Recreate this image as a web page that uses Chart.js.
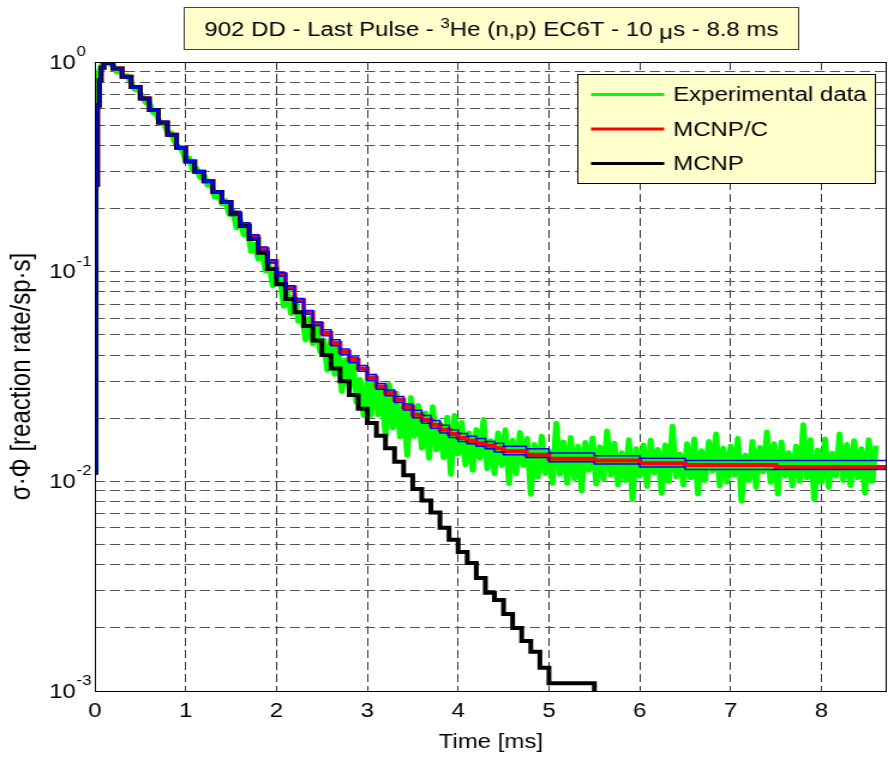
<!DOCTYPE html>
<html>
<head>
<meta charset="utf-8">
<title>902 DD - Last Pulse</title>
<script src="https://cdn.jsdelivr.net/npm/chart.js@4.4.1/dist/chart.umd.min.js"></script>
<style>
  html, body { margin: 0; padding: 0; background: #fff; }
</style>
</head>
<body>
<!-- the reference figure is horizontally stretched, so the canvas is drawn narrow and scaled up by CSS -->
<canvas id="chart" width="740" height="757" style="width:888px;height:757px;display:block"></canvas>
<script>
const FONT = '"Liberation Sans", Arial, sans-serif';

// title, with the superscript and the mu split out
const titleParts = [
    ["902 DD - Last Pulse - ", 20, 0],
    ["3", 14, -8],
    ["He (n,p) EC6T - 10 ", 20, 0],
    ["\u03bc", 20, 3],
    ["s - 8.8 ms", 20, 0],
];

// axes
const xMax = 8.72;
const yDecades = [0.001, 0.01, 0.1, 1];
const yExponents = ["-3", "-2", "-1", "0"];
const yMinor = [2, 3, 4, 5, 6, 7, 8, 9];

// MCNP/C (red): left edge of each time bin [ms] and the bin value
const mcnpcTime = [0, 0.01, 0.03, 0.05, 0.07, 0.1,
    0.2, 0.3, 0.4, 0.5, 0.6, 0.7, 0.8, 0.9, 1.0, 1.1, 1.2, 1.3, 1.4, 1.5,
    1.6, 1.7, 1.8, 1.9, 2.0, 2.1, 2.2, 2.3, 2.4, 2.5, 2.6, 2.7, 2.8, 2.9,
    3.0, 3.1, 3.2, 3.3, 3.4, 3.5, 3.6, 3.7, 3.8, 3.9, 4.0, 4.1, 4.2, 4.3, 4.4,
    4.5, 4.75, 5.0, 5.5, 6.0, 6.5, 7.5, 8.72];
const mcnpcValue = [0.011, 0.26, 0.62, 0.82, 0.94, 0.99,
    0.93, 0.85, 0.76, 0.67, 0.59, 0.515, 0.45, 0.39, 0.335, 0.30, 0.27, 0.24, 0.215, 0.19,
    0.168, 0.147, 0.128, 0.112, 0.097, 0.084, 0.073, 0.064, 0.0565, 0.051, 0.0457, 0.0414, 0.0379, 0.0345,
    0.0312, 0.0283, 0.0264, 0.0245, 0.0226, 0.0208, 0.0196, 0.0186, 0.0176, 0.0168, 0.0161, 0.0156, 0.0152, 0.0148, 0.0144,
    0.0139, 0.0134, 0.0128, 0.01256, 0.0122, 0.01197, 0.0117, 0.0117];

// blue band around MCNP/C (same bins)
const upperValue = [0.011, 0.26, 0.62, 0.82, 0.94, 0.99,
    0.939, 0.859, 0.768, 0.677, 0.596, 0.520, 0.455, 0.394, 0.338, 0.303, 0.273, 0.242, 0.217, 0.194,
    0.171, 0.150, 0.131, 0.114, 0.0989, 0.0857, 0.0745, 0.0653, 0.0576, 0.0528, 0.0473, 0.0428, 0.0392, 0.0357,
    0.0323, 0.0293, 0.0273, 0.0254, 0.0234, 0.0218, 0.0206, 0.0195, 0.0185, 0.0176, 0.0169, 0.0164, 0.0160, 0.0155, 0.0152,
    0.0147, 0.0143, 0.01365, 0.01323, 0.0129, 0.01257, 0.01257, 0.01257];
const lowerValue = [0.011, 0.26, 0.62, 0.82, 0.94, 0.98,
    0.921, 0.842, 0.752, 0.663, 0.584, 0.510, 0.446, 0.386, 0.332, 0.297, 0.267, 0.238, 0.213, 0.186,
    0.165, 0.144, 0.125, 0.110, 0.0951, 0.0823, 0.0715, 0.0627, 0.0554, 0.0495, 0.0443, 0.0402, 0.0368, 0.0335,
    0.0303, 0.0275, 0.0256, 0.0238, 0.0219, 0.0201, 0.0189, 0.0179, 0.0170, 0.0162, 0.0155, 0.0151, 0.0147, 0.0143, 0.0138,
    0.0134, 0.0130, 0.0124, 0.0121, 0.0117, 0.01139, 0.01139, 0.01139];

// MCNP (black)
const mcnpTime = [0, 0.01, 0.03, 0.05, 0.07, 0.1,
    0.2, 0.3, 0.4, 0.5, 0.6, 0.7, 0.8, 0.9, 1.0, 1.1, 1.2, 1.3, 1.4, 1.5,
    1.6, 1.7, 1.8, 1.9, 2.0, 2.1, 2.2, 2.3, 2.4, 2.5, 2.6, 2.7, 2.8, 2.9,
    3.0, 3.1, 3.2, 3.3, 3.4, 3.5, 3.6, 3.7, 3.8, 3.9, 4.0, 4.1, 4.2, 4.3, 4.4,
    4.5, 4.6, 4.7, 4.8, 4.9, 5.0, 5.5];
const mcnpValue = [0.011, 0.26, 0.62, 0.82, 0.94, 0.99,
    0.93, 0.85, 0.76, 0.67, 0.59, 0.515, 0.45, 0.39, 0.335, 0.30, 0.27, 0.24, 0.215, 0.188,
    0.165, 0.143, 0.123, 0.103, 0.087, 0.074, 0.064, 0.055, 0.047, 0.040, 0.0345, 0.030, 0.0258, 0.0222,
    0.019, 0.0165, 0.0144, 0.0124, 0.0107, 0.0092, 0.0081, 0.0071, 0.0060, 0.00526, 0.0046, 0.00408, 0.00346, 0.00294, 0.00272,
    0.00233, 0.0020, 0.00173, 0.00154, 0.00129, 0.00109, 0.0005];

// experimental data (green): rise, then samples every 0.04 ms from 0.2 ms
const expRiseTime = [0, 0.01, 0.02, 0.03, 0.05, 0.07, 0.09, 0.11, 0.13, 0.15, 0.17];
const expRiseValue = [0.011, 0.35, 0.62, 0.78, 0.9, 0.96, 0.99, 1.0, 0.99, 0.985, 0.975];
const expStart = 0.2;
const expStep = 0.04;
const expValue = [
    0.969, 0.896, 0.907, 0.851, 0.859, 0.792, 0.739, 0.738, 0.686, 0.639,
    0.639, 0.576, 0.562, 0.510, 0.508, 0.465, 0.459, 0.414, 0.394, 0.381, 0.340,
    0.348, 0.304, 0.311, 0.281, 0.291, 0.259, 0.263, 0.227, 0.236, 0.211,
    0.218, 0.188, 0.195, 0.162, 0.177, 0.150, 0.160, 0.125, 0.135, 0.115,
    0.126, 0.101, 0.107, 0.0856, 0.0944,
    0.0929, 0.0685, 0.0809, 0.0631, 0.0766, 0.0581, 0.0631, 0.0472, 0.0598, 0.0453,
    0.0550, 0.0417, 0.0473, 0.0339, 0.0471, 0.0324, 0.0450, 0.0268, 0.0380, 0.0283,
    0.0379, 0.0239, 0.0306, 0.0206, 0.0304,
    0.0207, 0.0318, 0.0208, 0.0275, 0.0165, 0.0290, 0.0180, 0.0263, 0.0163, 0.0227,
    0.0133, 0.0251, 0.0164, 0.0230, 0.0144, 0.0212, 0.0129, 0.0227, 0.0141, 0.0188,
    0.0130, 0.0202, 0.0108, 0.0206, 0.0135,
    0.0191, 0.0120, 0.0170, 0.0113, 0.0176, 0.0129, 0.0197, 0.0115, 0.0156, 0.0109,
    0.0170, 0.0119, 0.0176, 0.00978, 0.0157, 0.0109, 0.0171, 0.0119, 0.0160, 0.00867,
    0.0150, 0.0105, 0.0164, 0.0109, 0.0139, 0.00978, 0.0189, 0.0108, 0.0154, 0.00978,
    0.0162, 0.0103, 0.0147, 0.00899, 0.0153, 0.0113, 0.0161, 0.00970, 0.0146, 0.0102,
    0.0174, 0.0107, 0.0152, 0.00962, 0.0137, 0.0101, 0.0158, 0.00820, 0.0143, 0.0106,
    0.0149, 0.00947, 0.0157, 0.0110, 0.0142, 0.00877, 0.0149, 0.00997, 0.0183, 0.0105,
    0.0135, 0.00962, 0.0151, 0.0104, 0.0159, 0.00870, 0.0140, 0.0101, 0.0155, 0.0112,
    0.0168, 0.00951, 0.0144, 0.00990, 0.0147, 0.0107, 0.0160, 0.00805, 0.0133, 0.0101,
    0.0155, 0.00940, 0.0145, 0.0111, 0.0172, 0.00990, 0.0151, 0.00870, 0.0154, 0.0106,
    0.0137, 0.00952, 0.0147, 0.0100, 0.0186, 0.0104, 0.0158, 0.00820, 0.0141, 0.00990,
    0.0159, 0.00940, 0.0136, 0.0106, 0.0168, 0.0101, 0.0150, 0.00955, 0.0156, 0.0104,
    0.0143, 0.00880, 0.0158, 0.0100, 0.0148,
];

const yGrid = [];
yDecades.forEach((d) => {
    yGrid.push(d);
    if (d < 1) yMinor.forEach((m) => yGrid.push(+(d * m).toPrecision(3)));
});

const pairs = (t, v) => t.map((x, i) => ({ x, y: v[i] }));
const expData = pairs(expRiseTime, expRiseValue).concat(
    expValue.map((y, i) => ({ x: +(expStart + i * expStep).toFixed(2), y }))
);

// axes box, y tick labels with exponents, title box and legend
const decorations = {
    id: "decorations",
    afterDraw(chart) {
        const { ctx, chartArea: a, scales } = chart;
        ctx.save();
        ctx.setLineDash([]);
        ctx.strokeStyle = "#000";
        ctx.lineWidth = 1;
        ctx.strokeRect(a.left + 0.5, a.top + 0.5, a.right - a.left - 1, a.bottom - a.top);

        ctx.fillStyle = "#000";
        ctx.textAlign = "left";
        ctx.textBaseline = "middle";
        yDecades.forEach((v, i) => {
            const py = scales.y.getPixelForValue(v);
            ctx.font = "20px " + FONT;
            ctx.fillText("10", 41, py + 1);
            const w = ctx.measureText("10").width;
            ctx.font = "14px " + FONT;
            ctx.fillText(yExponents[i], 41 + w + 0.5, py - 10);
        });

        // title box
        const tx = 153, ty = 7, tw = 513, th = 43;
        ctx.fillStyle = "#ffffcc";
        ctx.fillRect(tx, ty, tw, th);
        ctx.strokeStyle = "#444";
        ctx.strokeRect(tx + 0.5, ty + 0.5, tw - 1, th - 1);
        ctx.fillStyle = "#000";
        ctx.textBaseline = "alphabetic";
        let total = 0;
        titleParts.forEach(([s, size]) => {
            ctx.font = size + "px " + FONT;
            total += ctx.measureText(s).width;
        });
        let cx = tx + tw / 2 - total / 2;
        titleParts.forEach(([s, size, dy]) => {
            ctx.font = size + "px " + FONT;
            ctx.fillText(s, cx, 36 + dy);
            cx += ctx.measureText(s).width;
        });

        // legend
        const lx = 481, ly = 74, lw = 249, lh = 110;
        ctx.fillStyle = "#ffffcc";
        ctx.fillRect(lx, ly, lw, lh);
        ctx.strokeStyle = "#000";
        ctx.strokeRect(lx + 0.5, ly + 0.5, lw - 1, lh - 1);
        ctx.font = "20px " + FONT;
        ctx.textBaseline = "middle";
        chart.data.datasets
            .filter((d) => d.label)
            .forEach((d, k) => {
                const yy = 94.5 + k * 34.5;
                ctx.strokeStyle = d.borderColor;
                ctx.lineWidth = 3;
                ctx.beginPath();
                ctx.moveTo(492.5, yy);
                ctx.lineTo(553.5, yy);
                ctx.stroke();
                ctx.fillStyle = "#000";
                ctx.fillText(d.label, 561, yy + 1);
            });
        ctx.restore();
    },
};

const lineBase = { pointRadius: 0, fill: false, tension: 0 };

new Chart(document.getElementById("chart"), {
    type: "line",
    data: {
        datasets: [
            { ...lineBase, label: "Experimental data", data: expData, borderColor: "#00ff00", borderWidth: 5, borderJoinStyle: "round", order: 5 },
            { ...lineBase, label: "MCNP/C", data: pairs(mcnpcTime, mcnpcValue), borderColor: "#ff0000", borderWidth: 4, stepped: "before", borderJoinStyle: "miter", order: 4 },
            { ...lineBase, label: "MCNP", data: pairs(mcnpTime, mcnpValue), borderColor: "#000000", borderWidth: 4, stepped: "before", borderJoinStyle: "miter", order: 3 },
            { ...lineBase, label: "", data: pairs(mcnpcTime, upperValue), borderColor: "#0000ff", borderWidth: 1.5, stepped: "before", order: 2 },
            { ...lineBase, label: "", data: pairs(mcnpcTime, lowerValue), borderColor: "#0000ff", borderWidth: 1.5, stepped: "before", order: 1 },
        ],
    },
    options: {
        responsive: false,
        devicePixelRatio: 1,
        animation: false,
        events: [],
        layout: { padding: { top: 62, right: 1, bottom: 0, left: 0 } },
        font: { family: FONT, size: 20 },
        plugins: {
            legend: { display: false },
            title: { display: false },
            tooltip: { enabled: false },
        },
        scales: {
            x: {
                type: "linear",
                min: 0,
                max: xMax,
                ticks: {
                    stepSize: 1,
                    includeBounds: false,
                    autoSkip: false,
                    maxRotation: 0,
                    color: "#000",
                    padding: 8,
                    font: { family: FONT, size: 20 },
                },
                grid: { color: "#333", lineWidth: 1, drawTicks: false },
                border: { display: false, dash: [8, 4] },
                title: {
                    display: true,
                    text: "Time [ms]",
                    color: "#000",
                    font: { family: FONT, size: 20 },
                    padding: { top: 0, bottom: 3 },
                },
                afterFit: (s) => { s.height = 66; },
            },
            y: {
                type: "logarithmic",
                min: 0.001,
                max: 1,
                ticks: { display: false },
                afterBuildTicks: (s) => { s.ticks = yGrid.map((v) => ({ value: v })); },
                grid: { color: "#555", lineWidth: 1, drawTicks: false },
                border: { display: false, dash: [8.5, 4] },
                title: {
                    display: true,
                    text: "\u03c3\u00b7\u03a6 [reaction rate/sp\u00b7s]",
                    color: "#000",
                    font: { family: FONT, size: 24 },
                    padding: { top: 4, bottom: 0 },
                },
                afterFit: (s) => { s.width = 79; },
            },
        },
    },
    plugins: [decorations],
});
</script>
</body>
</html>
